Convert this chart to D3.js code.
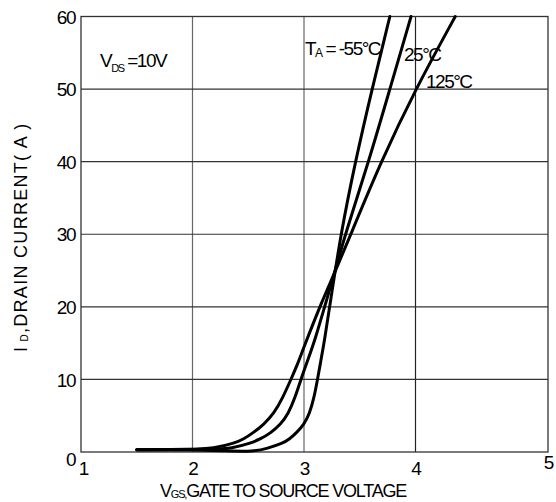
<!DOCTYPE html>
<html>
<head>
<meta charset="utf-8">
<script src="https://cdn.jsdelivr.net/npm/d3@7"></script>
<style>
  body { margin: 0; background: #fff; }
  text { font-family: "Liberation Sans", Arial, sans-serif; fill: #000; }
</style>
</head>
<body>
<div id="chart"></div>
<script>
// tick values
const xTicks = [1, 2, 3, 4, 5];
const yTicks = [0, 10, 20, 30, 40, 50, 60];

// transfer curves: [VGS, ID]
const seriesNames = ['-55', '25', '125'];
const curveM55 = [[1.5, 0.3], [2.0, 0.3], [2.3, 0.15], [2.55, 0.05], [2.67, 0.5], [2.81, 1.2], [2.87, 1.8],
    [2.93, 2.6], [3.0, 3.8], [3.05, 5.3], [3.09, 7.5], [3.12, 9.9], [3.15, 12.5], [3.18, 15], [3.25, 22],
    [3.33, 30], [3.46, 40], [3.61, 50], [3.77, 60]];
const curve25 = [[1.5, 0.3], [2.0, 0.35], [2.2, 0.4], [2.35, 0.5], [2.52, 1.2], [2.61, 1.8], [2.70, 2.6],
    [2.79, 3.8], [2.86, 5.3], [2.92, 7.5], [2.97, 9.9], [3.03, 12.5], [3.1, 15.5], [3.2, 20.8], [3.27, 24.5],
    [3.37, 30], [3.58, 40], [3.77, 50], [3.96, 60]];
const curve125 = [[1.5, 0.3], [2.0, 0.35], [2.19, 0.5], [2.375, 1.2], [2.46, 1.8], [2.54, 2.6], [2.64, 3.8],
    [2.73, 5.3], [2.81, 7.5], [2.88, 9.9], [2.94, 12], [3.0, 14.5], [3.165, 20.9], [3.27, 24.5], [3.42, 30],
    [3.69, 40], [4.0, 50], [4.3, 60]];

const W = 556, H = 502;

const svg = d3.select('#chart').append('svg')
    .attr('width', W)
    .attr('height', H);

// the last column of the original grid is a bit wider than the others
const x = d3.scaleLinear().domain([1, 4, 5]).range([81, 415.5, 548]);
const y = d3.scaleLinear().domain([0, 60]).range([452, 16.5]);

// grid
svg.append('g')
    .selectAll('line')
    .data(xTicks.slice(1, -1))
    .enter().append('line')
    .attr('x1', d => x(d)).attr('x2', d => x(d))
    .attr('y1', y(0)).attr('y2', y(60))
    .attr('stroke', (d, i) => i < 2 ? '#666' : '#222')
    .attr('stroke-width', 1.2);

svg.append('g')
    .selectAll('line')
    .data(yTicks.slice(1, -1))
    .enter().append('line')
    .attr('x1', x(1)).attr('x2', x(5))
    .attr('y1', d => y(d)).attr('y2', d => y(d))
    .attr('stroke', '#333')
    .attr('stroke-width', 1.2);

// frame
svg.append('rect')
    .attr('x', x(1)).attr('y', y(60))
    .attr('width', x(5) - x(1)).attr('height', y(0) - y(60))
    .attr('fill', 'none')
    .attr('stroke', '#333')
    .attr('stroke-width', 1.3);

// axes, labels only
const xAxis = svg.append('g')
    .attr('transform', 'translate(0,' + y(0) + ')')
    .call(d3.axisBottom(x).tickValues(xTicks).tickSize(0).tickPadding(10).tickFormat(d3.format('d')));
xAxis.select('.domain').remove();
xAxis.selectAll('text')
    .attr('dy', (d) => d === 5 ? '0.35em' : '0.7em')
    .attr('dx', (d) => d === 1 ? '2' : '0')
    .style('font-size', '19px')
    .style('letter-spacing', '-1px')
    .style('font-family', '"Liberation Sans", Arial, sans-serif');

const yAxis = svg.append('g')
    .attr('transform', 'translate(' + x(1) + ',0)')
    .call(d3.axisLeft(y).tickValues(yTicks).tickSize(0).tickPadding(6));
yAxis.select('.domain').remove();
yAxis.selectAll('text')
    .attr('dy', d => d === 0 ? '0.7em' : '0.35em')
    .style('font-size', '19px')
    .style('letter-spacing', '-1.5px')
    .style('font-family', '"Liberation Sans", Arial, sans-serif');

// curves
const line = d3.line()
    .x(d => x(d[0]))
    .y(d => y(d[1]))
    .curve(d3.curveBasis);

svg.append('g')
    .selectAll('path')
    .data([curveM55, curve25, curve125])
    .enter().append('path')
    .attr('class', (d, i) => 'curve t' + seriesNames[i])
    .attr('d', line)
    .attr('fill', 'none')
    .attr('stroke', '#000')
    .attr('stroke-width', 3)
    .attr('stroke-linejoin', 'round')
    .attr('stroke-linecap', 'round');

// annotations
const vds = svg.append('text')
    .attr('x', 100).attr('y', 67)
    .style('font-size', '19px')
    .style('letter-spacing', '-1.5px');
vds.append('tspan').text('V');
vds.append('tspan').attr('dy', 5).style('font-size', '11px').text('DS');
vds.append('tspan').attr('dy', -5).text(' =10V');

const ta = svg.append('text')
    .attr('x', 305).attr('y', 55)
    .style('font-size', '19px')
    .style('letter-spacing', '-1.5px');
ta.append('tspan').text('T');
ta.append('tspan').attr('dy', 2).style('font-size', '12px').text('A');
ta.append('tspan').attr('dy', -2).text(' = -55°C');

svg.append('text')
    .attr('x', 404).attr('y', 61)
    .style('font-size', '19px')
    .style('letter-spacing', '-1.5px')
    .text('25°C');

svg.append('text')
    .attr('x', 426).attr('y', 88)
    .style('font-size', '19px')
    .style('letter-spacing', '-1.5px')
    .text('125°C');

// axis titles
const xt = svg.append('text')
    .attr('x', 160).attr('y', 497)
    .style('font-size', '18px')
    .style('letter-spacing', '-1.2px');
xt.append('tspan').text('V');
xt.append('tspan').attr('dy', 1).style('font-size', '11px').text('GS,');
xt.append('tspan').attr('dy', -1).text('GATE TO SOURCE VOLTAGE');

const yt = svg.append('text')
    .attr('transform', 'translate(27,352) rotate(-90)')
    .style('font-size', '18px')
    .style('letter-spacing', '1.3px');
yt.append('tspan').text('I');
yt.append('tspan').attr('dy', 1).style('font-size', '10px').text(' D');
yt.append('tspan').attr('dy', -1).text(',DRAIN CURRENT( A )');
</script>
</body>
</html>
